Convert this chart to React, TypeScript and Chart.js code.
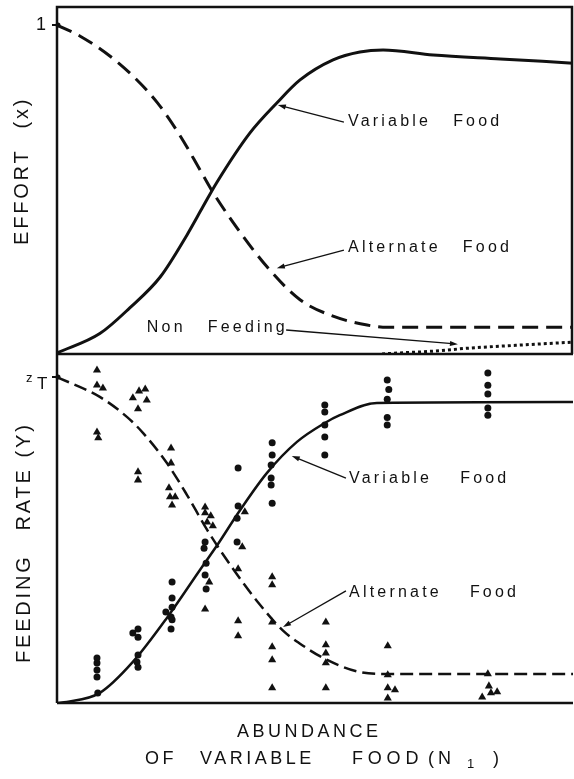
import React, { useEffect, useRef } from "react";
import { Chart, registerables } from "chart.js";

Chart.register(...registerables);

// ---------------- data ----------------
// abundance of variable food (arbitrary units 0..100)
const effortVariableX = [0, 8.3, 14.1, 20.0, 25.2, 28.3, 31.0, 37.4, 42.6, 47.1, 53.5, 58.7, 63.2, 72.9, 85.9, 100];
const effortVariable = [0.003, 0.062, 0.14, 0.234, 0.362, 0.448, 0.522, 0.672, 0.763, 0.833, 0.894, 0.918, 0.924, 0.909, 0.897, 0.884];

const effortAlternateX = [0, 4.5, 10.3, 14.7, 19.4, 23.8, 27.7, 30.2, 35.5, 40.7, 47.1, 53.5, 60.1, 64.0, 100];
const effortAlternate = [1.0, 0.966, 0.905, 0.845, 0.765, 0.665, 0.56, 0.492, 0.37, 0.265, 0.165, 0.115, 0.088, 0.081, 0.081];

const effortNonFeedingX = [63, 66, 72.3, 80.0, 89.7, 100];
const effortNonFeeding = [0.0, 0.003, 0.008, 0.018, 0.027, 0.036];

const rateVariableX = [0, 1.9, 8.3, 14.7, 21.3, 27.7, 31.0, 35.5, 40.7, 46.5, 51.9, 54.8, 62.0, 100];
const rateVariable = [0, 0.003, 0.031, 0.126, 0.261, 0.408, 0.483, 0.592, 0.706, 0.801, 0.859, 0.883, 0.92, 0.923];

const rateAlternateX = [0, 8.3, 13.6, 16.7, 21.3, 25.2, 29.1, 34.1, 39.3, 43.8, 47.1, 51.6, 58.1, 63.2, 100];
const rateAlternate = [1.0, 0.939, 0.877, 0.828, 0.736, 0.638, 0.531, 0.412, 0.302, 0.222, 0.182, 0.138, 0.097, 0.089, 0.089];

// observed feeding rates: variable food (circles)
const obsVariableX = [
  7.75, 7.75, 7.75, 7.75, 7.9,
  14.7, 15.7, 15.7, 15.7, 15.5, 15.7,
  22.3, 22.3, 22.3, 21.1, 22.1, 22.3, 22.1,
  28.7, 28.5, 28.9, 28.7, 28.9,
  35.1, 35.1, 34.9, 34.9,
  41.7, 41.7, 41.5, 41.5, 41.5, 41.7,
  51.9, 51.9, 51.9, 51.9, 51.9,
  64.0, 64.3, 64.0, 64.0, 64.0,
  83.5, 83.5, 83.5, 83.5, 83.5,
];
const obsVariable = [
  0.138, 0.123, 0.101, 0.08, 0.031,
  0.215, 0.227, 0.202, 0.147, 0.126, 0.11,
  0.371, 0.322, 0.294, 0.279, 0.264, 0.255, 0.227,
  0.494, 0.475, 0.429, 0.393, 0.35,
  0.721, 0.604, 0.567, 0.494,
  0.798, 0.761, 0.73, 0.69, 0.669, 0.613,
  0.914, 0.893, 0.853, 0.816, 0.761,
  0.991, 0.962, 0.932, 0.876, 0.853,
  1.012, 0.975, 0.948, 0.905, 0.883,
];

// observed feeding rates: alternate food (triangles)
const obsAlternateX = [
  7.75, 7.75, 8.9, 7.75, 8.0,
  14.7, 15.9, 17.1, 17.4, 15.7, 15.7, 15.7,
  22.1, 22.1, 21.7, 21.9, 22.9, 22.3,
  28.7, 28.7, 29.8, 29.1, 30.2, 29.5, 28.7,
  36.4, 35.9, 35.1, 35.1, 35.1,
  41.7, 41.7, 41.7, 41.7, 41.7, 41.7,
  52.1, 52.1, 52.1, 52.1, 52.1,
  64.1, 64.1, 64.1, 65.5, 64.1,
  83.5, 83.7, 85.3, 84.1, 82.4,
];
const obsAlternate = [
  1.021, 0.975, 0.966, 0.831, 0.813,
  0.936, 0.957, 0.963, 0.929, 0.902, 0.709, 0.684,
  0.782, 0.736, 0.66, 0.632, 0.632, 0.607,
  0.601, 0.583, 0.574, 0.555, 0.543, 0.371, 0.288,
  0.586, 0.479, 0.411, 0.252, 0.206,
  0.387, 0.362, 0.248, 0.172, 0.132, 0.046,
  0.248, 0.178, 0.153, 0.123, 0.046,
  0.175, 0.086, 0.046, 0.04, 0.015,
  0.089, 0.052, 0.034, 0.031, 0.018,
];

// ---------------- annotations (anchored in data units) ----------------
const curveLabels = [
  { axis: "yTop", words: ["Variable", "Food"], gap: 22, at: [56.4, 0.705], tail: [55.6, 0.705], tip: [42.8, 0.757] },
  { axis: "yTop", words: ["Alternate", "Food"], gap: 22, at: [56.4, 0.322], tail: [55.6, 0.316], tip: [42.6, 0.261] },
  { axis: "yTop", words: ["Non", "Feeding"], gap: 22, at: [17.4, 0.079], tail: [44.4, 0.073], tip: [77.7, 0.03] },
  { axis: "yBot", words: ["Variable", "Food"], gap: 28, at: [56.6, 0.687], tail: [56.0, 0.69], tip: [45.5, 0.758] },
  { axis: "yBot", words: ["Alternate", "Food"], gap: 28, at: [56.6, 0.34], tail: [56.0, 0.344], tip: [43.8, 0.233] },
];

const FONT = '"Liberation Sans", Arial, Helvetica, sans-serif';
const INK = "#111111";

const pts = (xs: number[], ys: number[]) => xs.map((x, i) => ({ x, y: ys[i] }));

function setFont(ctx: CanvasRenderingContext2D, size: number, spacing: number) {
  ctx.font = `${size}px ${FONT}`;
  (ctx as any).letterSpacing = `${spacing}px`;
}

type Seg = { text: string; size: number; spacing: number; gap?: number; dy?: number; at?: number };

function drawSegs(ctx: CanvasRenderingContext2D, segs: Seg[], x: number, y: number) {
  let cx = x;
  ctx.textAlign = "left";
  for (const s of segs) {
    if (s.at !== undefined) cx = x + s.at;
    cx += s.gap || 0;
    setFont(ctx, s.size, s.spacing);
    ctx.fillText(s.text, cx, y + (s.dy || 0));
    cx += ctx.measureText(s.text).width;
  }
}

function drawArrow(ctx: CanvasRenderingContext2D, x1: number, y1: number, x2: number, y2: number) {
  const ang = Math.atan2(y2 - y1, x2 - x1);
  const len = 8;
  const hw = 2.6;
  ctx.lineWidth = 1.3;
  ctx.beginPath();
  ctx.moveTo(x1, y1);
  ctx.lineTo(x2 - Math.cos(ang) * len * 0.7, y2 - Math.sin(ang) * len * 0.7);
  ctx.stroke();
  ctx.beginPath();
  ctx.moveTo(x2, y2);
  ctx.lineTo(x2 - Math.cos(ang) * len - Math.sin(ang) * hw, y2 - Math.sin(ang) * len + Math.cos(ang) * hw);
  ctx.lineTo(x2 - Math.cos(ang) * len + Math.sin(ang) * hw, y2 - Math.sin(ang) * len - Math.cos(ang) * hw);
  ctx.closePath();
  ctx.fill();
}

const decorPlugin = {
  id: "decor",
  afterDraw(chart: any) {
    const ctx: CanvasRenderingContext2D = chart.ctx;
    const { left, right, top, bottom } = chart.chartArea;
    const xs = chart.scales.x;
    const yTop = chart.scales.yTop;
    const yBot = chart.scales.yBot;
    const mid = yTop.bottom;
    ctx.save();
    ctx.strokeStyle = INK;
    ctx.fillStyle = INK;
    ctx.lineCap = "butt";

    // frame
    ctx.lineWidth = 2.5;
    ctx.beginPath();
    ctx.moveTo(left, bottom);
    ctx.lineTo(left, top);
    ctx.lineTo(right - 1, top);
    ctx.lineTo(right - 1, mid);
    ctx.moveTo(left, mid);
    ctx.lineTo(right, mid);
    ctx.moveTo(left, bottom);
    ctx.lineTo(right, bottom);
    ctx.stroke();

    // tick marks at 1 and Z_T
    const y1 = yTop.getPixelForValue(1);
    const yz = yBot.getPixelForValue(1);
    ctx.lineWidth = 2;
    ctx.beginPath();
    ctx.moveTo(left - 5, y1);
    ctx.lineTo(left + 1, y1);
    ctx.moveTo(left - 5, yz);
    ctx.lineTo(left + 1, yz);
    ctx.stroke();
    ctx.beginPath();
    ctx.arc(left + 1, y1, 2.5, 0, Math.PI * 2);
    ctx.arc(left + 1, yz, 2.5, 0, Math.PI * 2);
    ctx.fill();

    ctx.textBaseline = "middle";
    setFont(ctx, 18, 0);
    ctx.textAlign = "right";
    ctx.fillText("1", left - 11, y1);
    setFont(ctx, 13, 0);
    ctx.textAlign = "left";
    ctx.fillText("z", left - 31, yz + 1);
    setFont(ctx, 17, 0);
    ctx.fillText("T", left - 20, yz + 7);

    // curve labels with arrows
    for (const lab of curveLabels) {
      const ys = lab.axis === "yTop" ? yTop : yBot;
      const tx = xs.getPixelForValue(lab.at[0]);
      const ty = ys.getPixelForValue(lab.at[1]);
      drawSegs(
        ctx,
        [
          { text: lab.words[0], size: 16, spacing: 3.2 },
          { text: lab.words[1], size: 16, spacing: 3.2, gap: lab.gap },
        ],
        tx,
        ty
      );
      drawArrow(
        ctx,
        xs.getPixelForValue(lab.tail[0]),
        ys.getPixelForValue(lab.tail[1]),
        xs.getPixelForValue(lab.tip[0]),
        ys.getPixelForValue(lab.tip[1])
      );
    }

    // x axis title (two lines)
    ctx.textBaseline = "middle";
    const line1: Seg[] = [{ text: "ABUNDANCE", size: 18, spacing: 3.5 }];
    const line2: Seg[] = [
      { text: "OF", size: 18, spacing: 3.5, at: 0 },
      { text: "VARIABLE", size: 18, spacing: 3.5, at: 55 },
      { text: "FOOD", size: 18, spacing: 4.8, at: 207 },
      { text: "(N", size: 18, spacing: 4, at: 283 },
      { text: "1", size: 13, spacing: 0, at: 322, dy: 5 },
      { text: ")", size: 18, spacing: 0, at: 348 },
    ];
    drawSegs(ctx, line1, left + 180, bottom + 29);
    drawSegs(ctx, line2, left + 88, bottom + 56);

    // rotated y titles
    const yTitle = (segs: Seg[], startY: number, baseX: number) => {
      ctx.save();
      ctx.translate(baseX, startY);
      ctx.rotate(-Math.PI / 2);
      ctx.textBaseline = "alphabetic";
      drawSegs(ctx, segs, 0, 0);
      ctx.restore();
    };
    yTitle(
      [
        { text: "EFFORT", size: 20, spacing: 2.8 },
        { text: "(x)", size: 20, spacing: 2.8, gap: 20 },
      ],
      245,
      28
    );
    yTitle(
      [
        { text: "FEEDING", size: 20, spacing: 2.8 },
        { text: "RATE", size: 20, spacing: 2.8, gap: 24 },
        { text: "(Y)", size: 20, spacing: 2.8, gap: 10 },
      ],
      663,
      30
    );
    ctx.restore();
  },
};

export default function App() {
  const ref = useRef<HTMLCanvasElement | null>(null);

  useEffect(() => {
    document.body.style.margin = "0";
    const canvas = ref.current;
    if (!canvas) return;

    const lineDs = (label: string, xs: number[], ys: number[], axis: string, width: number, dash: number[]) => ({
      label,
      data: pts(xs, ys),
      yAxisID: axis,
      showLine: true,
      borderColor: INK,
      backgroundColor: INK,
      borderWidth: width,
      borderDash: dash,
      pointRadius: 0,
      cubicInterpolationMode: "monotone" as const,
      fill: false,
      order: 1,
    });

    const chart = new Chart(canvas, {
      type: "scatter",
      data: {
        datasets: [
          lineDs("Effort: variable food", effortVariableX, effortVariable, "yTop", 3, []),
          lineDs("Effort: alternate food", effortAlternateX, effortAlternate, "yTop", 3, [16, 8]),
          lineDs("Effort: non feeding", effortNonFeedingX, effortNonFeeding, "yTop", 3, [3, 3]),
          lineDs("Rate: variable food", rateVariableX, rateVariable, "yBot", 2.5, []),
          lineDs("Rate: alternate food", rateAlternateX, rateAlternate, "yBot", 2.5, [13, 6]),
          {
            label: "Observed variable food",
            data: pts(obsVariableX, obsVariable),
            yAxisID: "yBot",
            pointStyle: "circle",
            pointRadius: 3.5,
            pointBackgroundColor: INK,
            pointBorderWidth: 0,
            showLine: false,
            order: 0,
          },
          {
            label: "Observed alternate food",
            data: pts(obsAlternateX, obsAlternate),
            yAxisID: "yBot",
            pointStyle: "triangle",
            pointRadius: 4.7,
            pointBackgroundColor: INK,
            pointBorderWidth: 0,
            showLine: false,
            order: 0,
          },
        ],
      },
      options: {
        animation: false,
        responsive: false,
        devicePixelRatio: 1,
        layout: { autoPadding: false, padding: { left: 57, right: 1, top: 7, bottom: 76 } },
        plugins: { legend: { display: false }, tooltip: { enabled: false } },
        events: [],
        scales: {
          x: { type: "linear", min: 0, max: 100, display: false },
          yBot: {
            type: "linear",
            position: "left",
            stack: "panels",
            stackWeight: 349,
            min: 0,
            max: 1.0706,
            ticks: { display: false },
            grid: { display: false, drawTicks: false },
            border: { display: false },
          },
          yTop: {
            type: "linear",
            position: "left",
            stack: "panels",
            stackWeight: 347,
            min: 0,
            max: 1.0547,
            ticks: { display: false },
            grid: { display: false, drawTicks: false },
            border: { display: false },
          },
        },
      },
      plugins: [decorPlugin],
    } as any);

    return () => chart.destroy();
  }, []);

  return <canvas ref={ref} width={574} height={779} style={{ display: "block" }} />;
}
